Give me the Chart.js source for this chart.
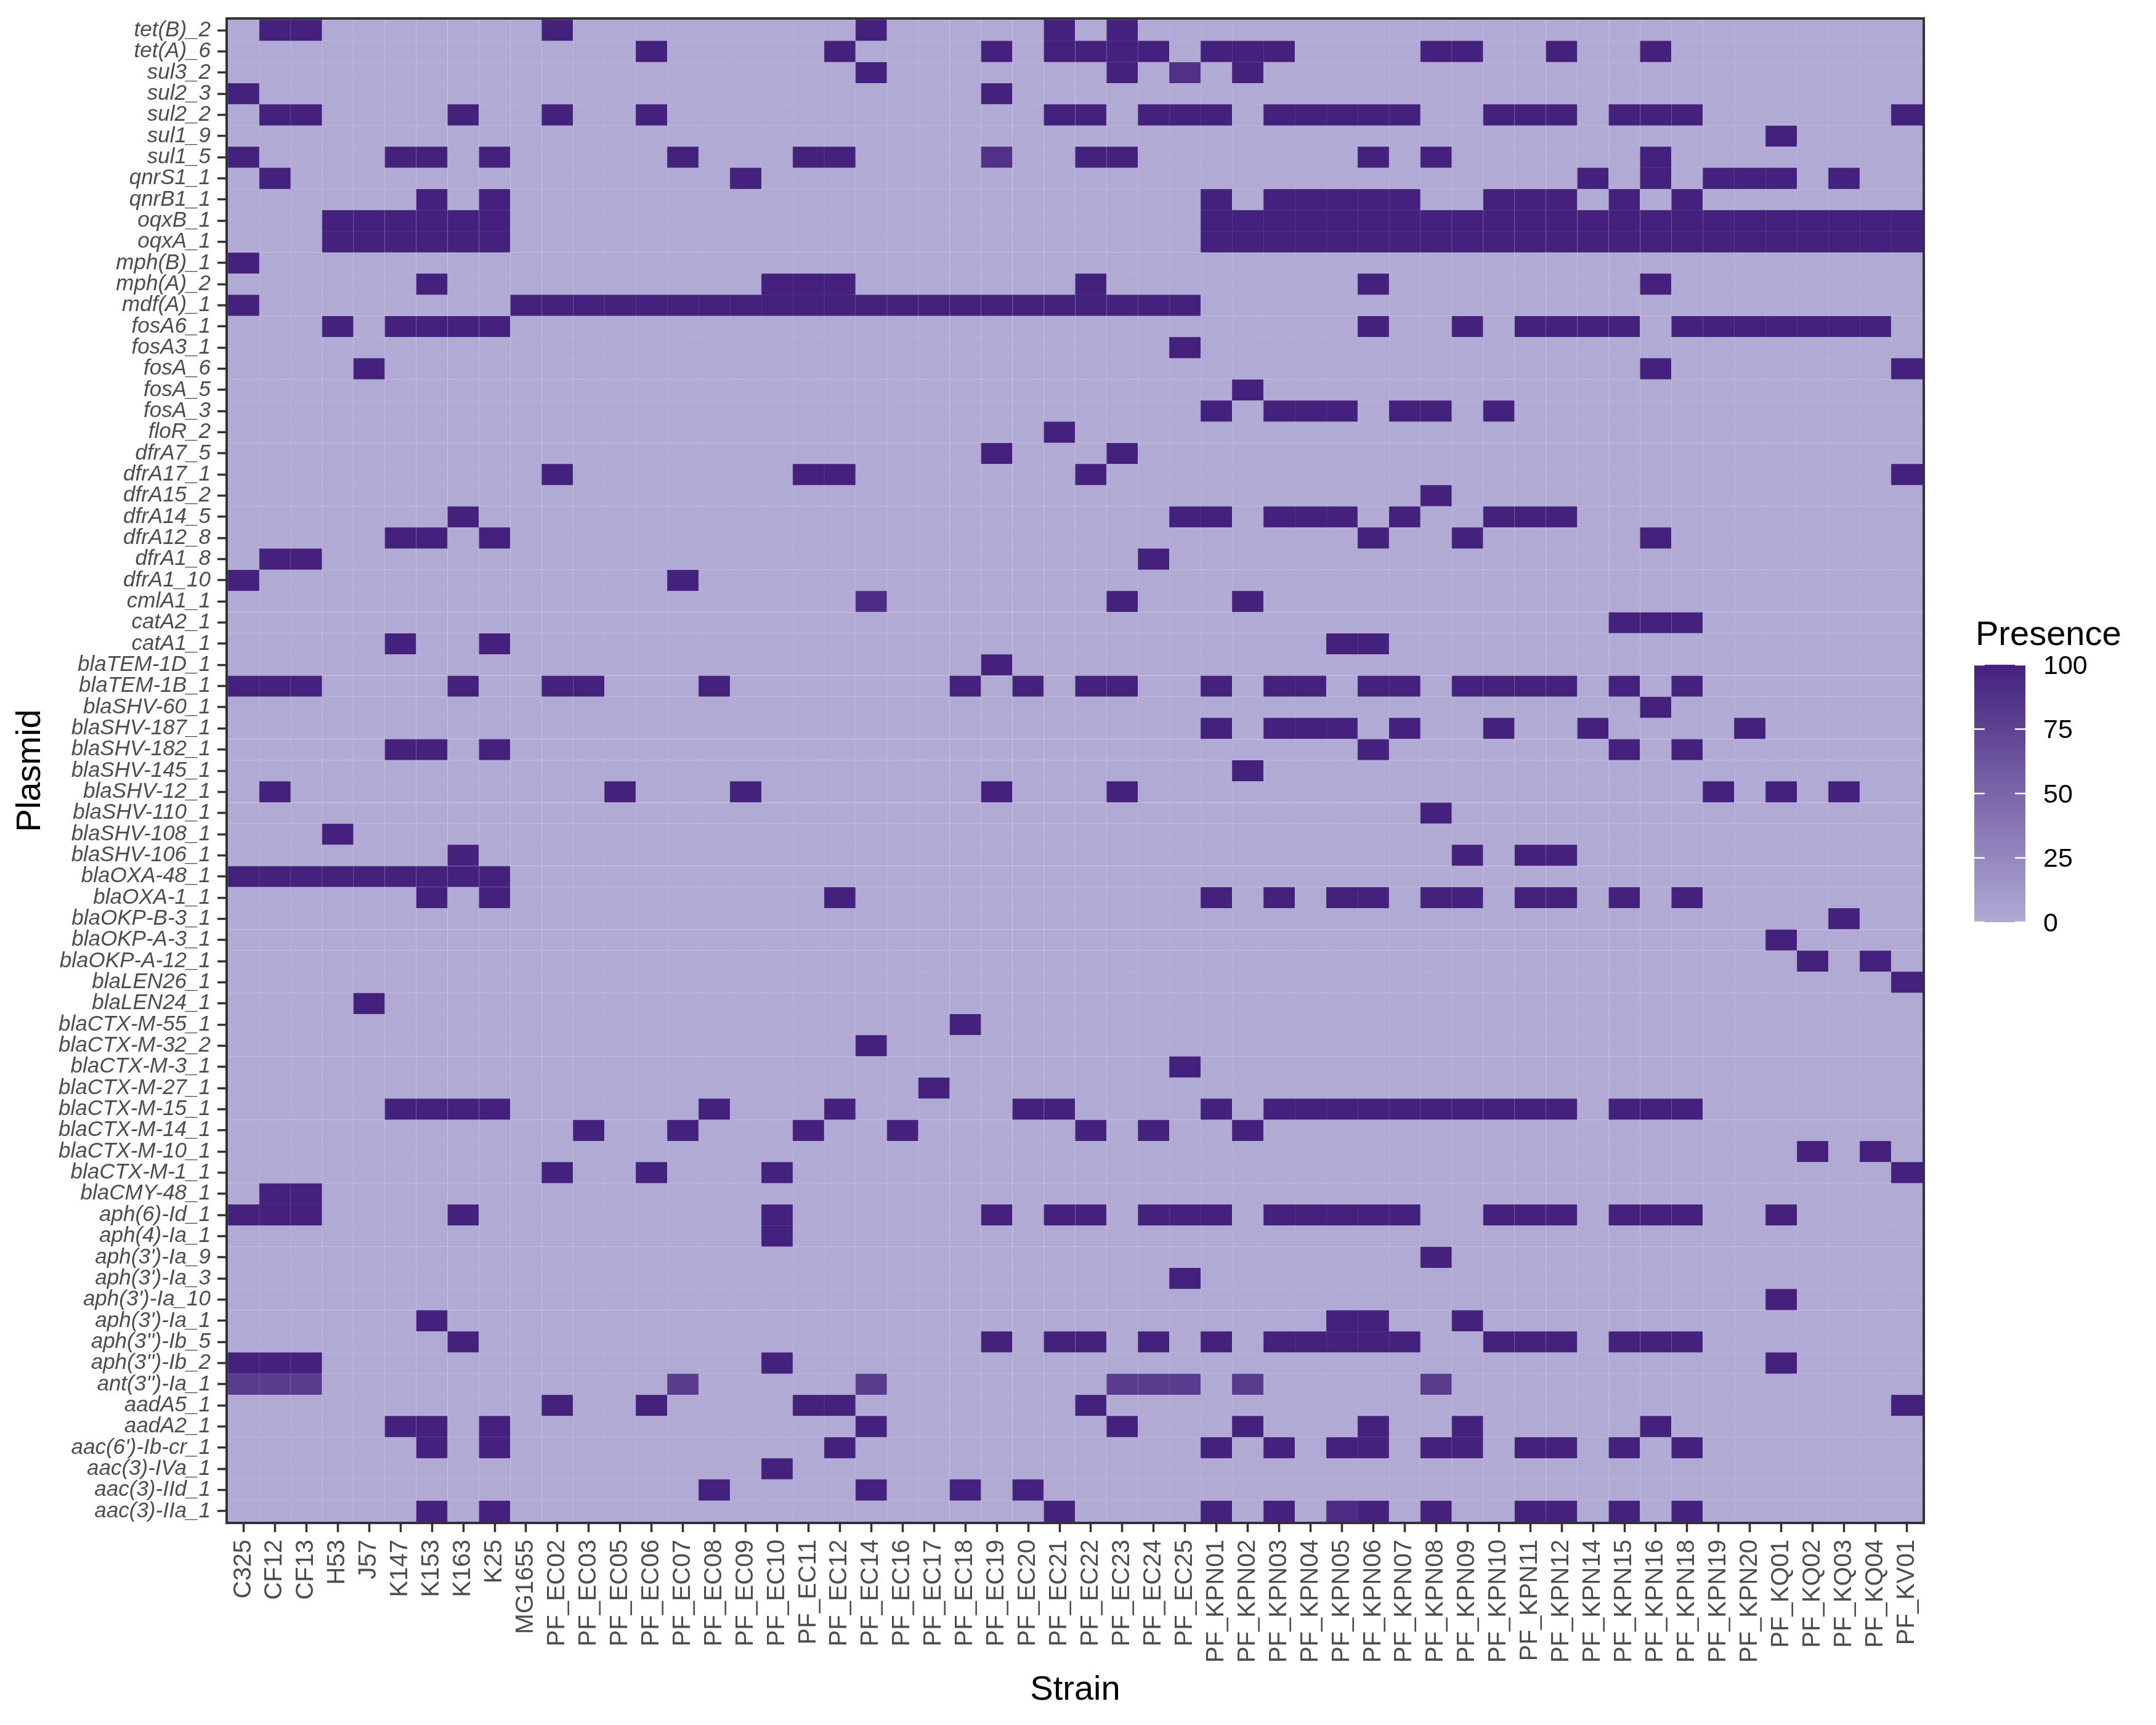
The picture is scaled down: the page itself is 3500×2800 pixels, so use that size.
<!DOCTYPE html>
<html>
<head>
<meta charset="utf-8">
<script src="https://cdn.jsdelivr.net/npm/chart.js@4.4.1/dist/chart.umd.min.js"></script>
<style>
html,body{margin:0;padding:0;background:#fff;}
canvas{display:block;}
</style>
</head>
<body>
<canvas id="c" width="3500" height="2800" style="width:3500px;height:2800px"></canvas>
<script>
// ---------------- DATA ----------------
const strains = ["C325","CF12","CF13","H53","J57","K147","K153","K163","K25","MG1655",
  "PF_EC02","PF_EC03","PF_EC05","PF_EC06","PF_EC07","PF_EC08","PF_EC09","PF_EC10","PF_EC11","PF_EC12",
  "PF_EC14","PF_EC16","PF_EC17","PF_EC18","PF_EC19","PF_EC20","PF_EC21","PF_EC22","PF_EC23","PF_EC24",
  "PF_EC25","PF_KPN01","PF_KPN02","PF_KPN03","PF_KPN04","PF_KPN05","PF_KPN06","PF_KPN07","PF_KPN08","PF_KPN09",
  "PF_KPN10","PF_KPN11","PF_KPN12","PF_KPN14","PF_KPN15","PF_KPN16","PF_KPN18","PF_KPN19","PF_KPN20","PF_KQ01",
  "PF_KQ02","PF_KQ03","PF_KQ04","PF_KV01"];

// top to bottom
const plasmids = ["tet(B)_2","tet(A)_6","sul3_2","sul2_3","sul2_2","sul1_9","sul1_5","qnrS1_1","qnrB1_1","oqxB_1",
  "oqxA_1","mph(B)_1","mph(A)_2","mdf(A)_1","fosA6_1","fosA3_1","fosA_6","fosA_5","fosA_3","floR_2",
  "dfrA7_5","dfrA17_1","dfrA15_2","dfrA14_5","dfrA12_8","dfrA1_8","dfrA1_10","cmlA1_1","catA2_1","catA1_1",
  "blaTEM-1D_1","blaTEM-1B_1","blaSHV-60_1","blaSHV-187_1","blaSHV-182_1","blaSHV-145_1","blaSHV-12_1","blaSHV-110_1","blaSHV-108_1","blaSHV-106_1",
  "blaOXA-48_1","blaOXA-1_1","blaOKP-B-3_1","blaOKP-A-3_1","blaOKP-A-12_1","blaLEN26_1","blaLEN24_1","blaCTX-M-55_1","blaCTX-M-32_2","blaCTX-M-3_1",
  "blaCTX-M-27_1","blaCTX-M-15_1","blaCTX-M-14_1","blaCTX-M-10_1","blaCTX-M-1_1","blaCMY-48_1","aph(6)-Id_1","aph(4)-Ia_1","aph(3')-Ia_9","aph(3')-Ia_3",
  "aph(3')-Ia_10","aph(3')-Ia_1","aph(3'')-Ib_5","aph(3'')-Ib_2","ant(3'')-Ia_1","aadA5_1","aadA2_1","aac(6')-Ib-cr_1","aac(3)-IVa_1","aac(3)-IId_1",
  "aac(3)-IIa_1"];

// presence (%) per plasmid row, one value per strain (same order as strains)
const presence = [
/* tet(B)_2 */   [0,100,100,0,0,0,0,0,0,0, 100,0,0,0,0,0,0,0,0,0, 100,0,0,0,0,0,100,0,100,0, 0,0,0,0,0,0,0,0,0,0, 0,0,0,0,0,0,0,0,0,0, 0,0,0,0],
/* tet(A)_6 */   [0,0,0,0,0,0,0,0,0,0, 0,0,0,100,0,0,0,0,0,100, 0,0,0,0,100,0,100,100,100,100, 0,100,100,100,0,0,0,0,100,100, 0,0,100,0,0,100,0,0,0,0, 0,0,0,0],
/* sul3_2 */     [0,0,0,0,0,0,0,0,0,0, 0,0,0,0,0,0,0,0,0,0, 100,0,0,0,0,0,0,0,100,0, 88,0,100,0,0,0,0,0,0,0, 0,0,0,0,0,0,0,0,0,0, 0,0,0,0],
/* sul2_3 */     [100,0,0,0,0,0,0,0,0,0, 0,0,0,0,0,0,0,0,0,0, 0,0,0,0,100,0,0,0,0,0, 0,0,0,0,0,0,0,0,0,0, 0,0,0,0,0,0,0,0,0,0, 0,0,0,0],
/* sul2_2 */     [0,100,100,0,0,0,0,100,0,0, 100,0,0,100,0,0,0,0,0,0, 0,0,0,0,0,0,100,100,0,100, 100,100,0,100,100,100,100,100,0,0, 100,100,100,0,100,100,100,0,0,0, 0,0,0,100],
/* sul1_9 */     [0,0,0,0,0,0,0,0,0,0, 0,0,0,0,0,0,0,0,0,0, 0,0,0,0,0,0,0,0,0,0, 0,0,0,0,0,0,0,0,0,0, 0,0,0,0,0,0,0,0,0,100, 0,0,0,0],
/* sul1_5 */     [100,0,0,0,0,100,100,0,100,0, 0,0,0,0,100,0,0,0,100,100, 0,0,0,0,88,0,0,100,100,0, 0,0,0,0,0,0,100,0,100,0, 0,0,0,0,0,100,0,0,0,0, 0,0,0,0],
/* qnrS1_1 */    [0,100,0,0,0,0,0,0,0,0, 0,0,0,0,0,0,100,0,0,0, 0,0,0,0,0,0,0,0,0,0, 0,0,0,0,0,0,0,0,0,0, 0,0,0,100,0,100,0,100,100,100, 0,100,0,0],
/* qnrB1_1 */    [0,0,0,0,0,0,100,0,100,0, 0,0,0,0,0,0,0,0,0,0, 0,0,0,0,0,0,0,0,0,0, 0,100,0,100,100,100,100,100,0,0, 100,100,100,0,100,0,100,0,0,0, 0,0,0,0],
/* oqxB_1 */     [0,0,0,100,100,100,100,100,100,0, 0,0,0,0,0,0,0,0,0,0, 0,0,0,0,0,0,0,0,0,0, 0,100,100,100,100,100,100,100,100,100, 100,100,100,100,100,100,100,100,100,100, 100,100,100,100],
/* oqxA_1 */     [0,0,0,100,100,100,100,100,100,0, 0,0,0,0,0,0,0,0,0,0, 0,0,0,0,0,0,0,0,0,0, 0,100,100,100,100,100,100,100,100,100, 100,100,100,100,100,100,100,100,100,100, 100,100,100,100],
/* mph(B)_1 */   [100,0,0,0,0,0,0,0,0,0, 0,0,0,0,0,0,0,0,0,0, 0,0,0,0,0,0,0,0,0,0, 0,0,0,0,0,0,0,0,0,0, 0,0,0,0,0,0,0,0,0,0, 0,0,0,0],
/* mph(A)_2 */   [0,0,0,0,0,0,100,0,0,0, 0,0,0,0,0,0,0,100,100,100, 0,0,0,0,0,0,0,100,0,0, 0,0,0,0,0,0,100,0,0,0, 0,0,0,0,0,100,0,0,0,0, 0,0,0,0],
/* mdf(A)_1 */   [100,0,0,0,0,0,0,0,0,100, 100,100,100,100,100,100,100,100,100,100, 100,100,100,100,100,100,100,100,100,100, 100,0,0,0,0,0,0,0,0,0, 0,0,0,0,0,0,0,0,0,0, 0,0,0,0],
/* fosA6_1 */    [0,0,0,100,0,100,100,100,100,0, 0,0,0,0,0,0,0,0,0,0, 0,0,0,0,0,0,0,0,0,0, 0,0,0,0,0,0,100,0,0,100, 0,100,100,100,100,0,100,100,100,100, 100,100,100,0],
/* fosA3_1 */    [0,0,0,0,0,0,0,0,0,0, 0,0,0,0,0,0,0,0,0,0, 0,0,0,0,0,0,0,0,0,0, 100,0,0,0,0,0,0,0,0,0, 0,0,0,0,0,0,0,0,0,0, 0,0,0,0],
/* fosA_6 */     [0,0,0,0,100,0,0,0,0,0, 0,0,0,0,0,0,0,0,0,0, 0,0,0,0,0,0,0,0,0,0, 0,0,0,0,0,0,0,0,0,0, 0,0,0,0,0,100,0,0,0,0, 0,0,0,100],
/* fosA_5 */     [0,0,0,0,0,0,0,0,0,0, 0,0,0,0,0,0,0,0,0,0, 0,0,0,0,0,0,0,0,0,0, 0,0,100,0,0,0,0,0,0,0, 0,0,0,0,0,0,0,0,0,0, 0,0,0,0],
/* fosA_3 */     [0,0,0,0,0,0,0,0,0,0, 0,0,0,0,0,0,0,0,0,0, 0,0,0,0,0,0,0,0,0,0, 0,100,0,100,100,100,0,100,100,0, 100,0,0,0,0,0,0,0,0,0, 0,0,0,0],
/* floR_2 */     [0,0,0,0,0,0,0,0,0,0, 0,0,0,0,0,0,0,0,0,0, 0,0,0,0,0,0,100,0,0,0, 0,0,0,0,0,0,0,0,0,0, 0,0,0,0,0,0,0,0,0,0, 0,0,0,0],
/* dfrA7_5 */    [0,0,0,0,0,0,0,0,0,0, 0,0,0,0,0,0,0,0,0,0, 0,0,0,0,100,0,0,0,100,0, 0,0,0,0,0,0,0,0,0,0, 0,0,0,0,0,0,0,0,0,0, 0,0,0,0],
/* dfrA17_1 */   [0,0,0,0,0,0,0,0,0,0, 100,0,0,0,0,0,0,0,100,100, 0,0,0,0,0,0,0,100,0,0, 0,0,0,0,0,0,0,0,0,0, 0,0,0,0,0,0,0,0,0,0, 0,0,0,100],
/* dfrA15_2 */   [0,0,0,0,0,0,0,0,0,0, 0,0,0,0,0,0,0,0,0,0, 0,0,0,0,0,0,0,0,0,0, 0,0,0,0,0,0,0,0,100,0, 0,0,0,0,0,0,0,0,0,0, 0,0,0,0],
/* dfrA14_5 */   [0,0,0,0,0,0,0,100,0,0, 0,0,0,0,0,0,0,0,0,0, 0,0,0,0,0,0,0,0,0,0, 100,100,0,100,100,100,0,100,0,0, 100,100,100,0,0,0,0,0,0,0, 0,0,0,0],
/* dfrA12_8 */   [0,0,0,0,0,100,100,0,100,0, 0,0,0,0,0,0,0,0,0,0, 0,0,0,0,0,0,0,0,0,0, 0,0,0,0,0,0,100,0,0,100, 0,0,0,0,0,100,0,0,0,0, 0,0,0,0],
/* dfrA1_8 */    [0,100,100,0,0,0,0,0,0,0, 0,0,0,0,0,0,0,0,0,0, 0,0,0,0,0,0,0,0,0,100, 0,0,0,0,0,0,0,0,0,0, 0,0,0,0,0,0,0,0,0,0, 0,0,0,0],
/* dfrA1_10 */   [100,0,0,0,0,0,0,0,0,0, 0,0,0,0,100,0,0,0,0,0, 0,0,0,0,0,0,0,0,0,0, 0,0,0,0,0,0,0,0,0,0, 0,0,0,0,0,0,0,0,0,0, 0,0,0,0],
/* cmlA1_1 */    [0,0,0,0,0,0,0,0,0,0, 0,0,0,0,0,0,0,0,0,0, 92,0,0,0,0,0,0,0,100,0, 0,0,100,0,0,0,0,0,0,0, 0,0,0,0,0,0,0,0,0,0, 0,0,0,0],
/* catA2_1 */    [0,0,0,0,0,0,0,0,0,0, 0,0,0,0,0,0,0,0,0,0, 0,0,0,0,0,0,0,0,0,0, 0,0,0,0,0,0,0,0,0,0, 0,0,0,0,100,100,100,0,0,0, 0,0,0,0],
/* catA1_1 */    [0,0,0,0,0,100,0,0,100,0, 0,0,0,0,0,0,0,0,0,0, 0,0,0,0,0,0,0,0,0,0, 0,0,0,0,0,100,100,0,0,0, 0,0,0,0,0,0,0,0,0,0, 0,0,0,0],
/* blaTEM-1D_1 */[0,0,0,0,0,0,0,0,0,0, 0,0,0,0,0,0,0,0,0,0, 0,0,0,0,100,0,0,0,0,0, 0,0,0,0,0,0,0,0,0,0, 0,0,0,0,0,0,0,0,0,0, 0,0,0,0],
/* blaTEM-1B_1 */[100,100,100,0,0,0,0,100,0,0, 100,100,0,0,0,100,0,0,0,0, 0,0,0,100,0,100,0,100,100,0, 0,100,0,100,100,0,100,100,0,100, 100,100,100,0,100,0,100,0,0,0, 0,0,0,0],
/* blaSHV-60_1 */[0,0,0,0,0,0,0,0,0,0, 0,0,0,0,0,0,0,0,0,0, 0,0,0,0,0,0,0,0,0,0, 0,0,0,0,0,0,0,0,0,0, 0,0,0,0,0,100,0,0,0,0, 0,0,0,0],
/* blaSHV-187_1 */[0,0,0,0,0,0,0,0,0,0, 0,0,0,0,0,0,0,0,0,0, 0,0,0,0,0,0,0,0,0,0, 0,100,0,100,100,100,0,100,0,0, 100,0,0,100,0,0,0,0,100,0, 0,0,0,0],
/* blaSHV-182_1 */[0,0,0,0,0,100,100,0,100,0, 0,0,0,0,0,0,0,0,0,0, 0,0,0,0,0,0,0,0,0,0, 0,0,0,0,0,0,100,0,0,0, 0,0,0,0,100,0,100,0,0,0, 0,0,0,0],
/* blaSHV-145_1 */[0,0,0,0,0,0,0,0,0,0, 0,0,0,0,0,0,0,0,0,0, 0,0,0,0,0,0,0,0,0,0, 0,0,100,0,0,0,0,0,0,0, 0,0,0,0,0,0,0,0,0,0, 0,0,0,0],
/* blaSHV-12_1 */[0,100,0,0,0,0,0,0,0,0, 0,0,100,0,0,0,100,0,0,0, 0,0,0,0,100,0,0,0,100,0, 0,0,0,0,0,0,0,0,0,0, 0,0,0,0,0,0,0,100,0,100, 0,100,0,0],
/* blaSHV-110_1 */[0,0,0,0,0,0,0,0,0,0, 0,0,0,0,0,0,0,0,0,0, 0,0,0,0,0,0,0,0,0,0, 0,0,0,0,0,0,0,0,100,0, 0,0,0,0,0,0,0,0,0,0, 0,0,0,0],
/* blaSHV-108_1 */[0,0,0,100,0,0,0,0,0,0, 0,0,0,0,0,0,0,0,0,0, 0,0,0,0,0,0,0,0,0,0, 0,0,0,0,0,0,0,0,0,0, 0,0,0,0,0,0,0,0,0,0, 0,0,0,0],
/* blaSHV-106_1 */[0,0,0,0,0,0,0,100,0,0, 0,0,0,0,0,0,0,0,0,0, 0,0,0,0,0,0,0,0,0,0, 0,0,0,0,0,0,0,0,0,100, 0,100,100,0,0,0,0,0,0,0, 0,0,0,0],
/* blaOXA-48_1 */[100,100,100,100,100,100,100,100,100,0, 0,0,0,0,0,0,0,0,0,0, 0,0,0,0,0,0,0,0,0,0, 0,0,0,0,0,0,0,0,0,0, 0,0,0,0,0,0,0,0,0,0, 0,0,0,0],
/* blaOXA-1_1 */ [0,0,0,0,0,0,100,0,100,0, 0,0,0,0,0,0,0,0,0,100, 0,0,0,0,0,0,0,0,0,0, 0,100,0,100,0,100,100,0,100,100, 0,100,100,0,100,0,100,0,0,0, 0,0,0,0],
/* blaOKP-B-3_1 */[0,0,0,0,0,0,0,0,0,0, 0,0,0,0,0,0,0,0,0,0, 0,0,0,0,0,0,0,0,0,0, 0,0,0,0,0,0,0,0,0,0, 0,0,0,0,0,0,0,0,0,0, 0,100,0,0],
/* blaOKP-A-3_1 */[0,0,0,0,0,0,0,0,0,0, 0,0,0,0,0,0,0,0,0,0, 0,0,0,0,0,0,0,0,0,0, 0,0,0,0,0,0,0,0,0,0, 0,0,0,0,0,0,0,0,0,100, 0,0,0,0],
/* blaOKP-A-12_1 */[0,0,0,0,0,0,0,0,0,0, 0,0,0,0,0,0,0,0,0,0, 0,0,0,0,0,0,0,0,0,0, 0,0,0,0,0,0,0,0,0,0, 0,0,0,0,0,0,0,0,0,0, 100,0,100,0],
/* blaLEN26_1 */ [0,0,0,0,0,0,0,0,0,0, 0,0,0,0,0,0,0,0,0,0, 0,0,0,0,0,0,0,0,0,0, 0,0,0,0,0,0,0,0,0,0, 0,0,0,0,0,0,0,0,0,0, 0,0,0,100],
/* blaLEN24_1 */ [0,0,0,0,100,0,0,0,0,0, 0,0,0,0,0,0,0,0,0,0, 0,0,0,0,0,0,0,0,0,0, 0,0,0,0,0,0,0,0,0,0, 0,0,0,0,0,0,0,0,0,0, 0,0,0,0],
/* blaCTX-M-55_1 */[0,0,0,0,0,0,0,0,0,0, 0,0,0,0,0,0,0,0,0,0, 0,0,0,100,0,0,0,0,0,0, 0,0,0,0,0,0,0,0,0,0, 0,0,0,0,0,0,0,0,0,0, 0,0,0,0],
/* blaCTX-M-32_2 */[0,0,0,0,0,0,0,0,0,0, 0,0,0,0,0,0,0,0,0,0, 100,0,0,0,0,0,0,0,0,0, 0,0,0,0,0,0,0,0,0,0, 0,0,0,0,0,0,0,0,0,0, 0,0,0,0],
/* blaCTX-M-3_1 */[0,0,0,0,0,0,0,0,0,0, 0,0,0,0,0,0,0,0,0,0, 0,0,0,0,0,0,0,0,0,0, 100,0,0,0,0,0,0,0,0,0, 0,0,0,0,0,0,0,0,0,0, 0,0,0,0],
/* blaCTX-M-27_1 */[0,0,0,0,0,0,0,0,0,0, 0,0,0,0,0,0,0,0,0,0, 0,0,100,0,0,0,0,0,0,0, 0,0,0,0,0,0,0,0,0,0, 0,0,0,0,0,0,0,0,0,0, 0,0,0,0],
/* blaCTX-M-15_1 */[0,0,0,0,0,100,100,100,100,0, 0,0,0,0,0,100,0,0,0,100, 0,0,0,0,0,100,100,0,0,0, 0,100,0,100,100,100,100,100,100,100, 100,100,100,0,100,100,100,0,0,0, 0,0,0,0],
/* blaCTX-M-14_1 */[0,0,0,0,0,0,0,0,0,0, 0,100,0,0,100,0,0,0,100,0, 0,100,0,0,0,0,0,100,0,100, 0,0,100,0,0,0,0,0,0,0, 0,0,0,0,0,0,0,0,0,0, 0,0,0,0],
/* blaCTX-M-10_1 */[0,0,0,0,0,0,0,0,0,0, 0,0,0,0,0,0,0,0,0,0, 0,0,0,0,0,0,0,0,0,0, 0,0,0,0,0,0,0,0,0,0, 0,0,0,0,0,0,0,0,0,0, 100,0,100,0],
/* blaCTX-M-1_1 */[0,0,0,0,0,0,0,0,0,0, 100,0,0,100,0,0,0,100,0,0, 0,0,0,0,0,0,0,0,0,0, 0,0,0,0,0,0,0,0,0,0, 0,0,0,0,0,0,0,0,0,0, 0,0,0,100],
/* blaCMY-48_1 */[0,100,100,0,0,0,0,0,0,0, 0,0,0,0,0,0,0,0,0,0, 0,0,0,0,0,0,0,0,0,0, 0,0,0,0,0,0,0,0,0,0, 0,0,0,0,0,0,0,0,0,0, 0,0,0,0],
/* aph(6)-Id_1 */[100,100,100,0,0,0,0,100,0,0, 0,0,0,0,0,0,0,100,0,0, 0,0,0,0,100,0,100,100,0,100, 100,100,0,100,100,100,100,100,0,0, 100,100,100,0,100,100,100,0,0,100, 0,0,0,0],
/* aph(4)-Ia_1 */[0,0,0,0,0,0,0,0,0,0, 0,0,0,0,0,0,0,100,0,0, 0,0,0,0,0,0,0,0,0,0, 0,0,0,0,0,0,0,0,0,0, 0,0,0,0,0,0,0,0,0,0, 0,0,0,0],
/* aph(3')-Ia_9 */[0,0,0,0,0,0,0,0,0,0, 0,0,0,0,0,0,0,0,0,0, 0,0,0,0,0,0,0,0,0,0, 0,0,0,0,0,0,0,0,100,0, 0,0,0,0,0,0,0,0,0,0, 0,0,0,0],
/* aph(3')-Ia_3 */[0,0,0,0,0,0,0,0,0,0, 0,0,0,0,0,0,0,0,0,0, 0,0,0,0,0,0,0,0,0,0, 100,0,0,0,0,0,0,0,0,0, 0,0,0,0,0,0,0,0,0,0, 0,0,0,0],
/* aph(3')-Ia_10 */[0,0,0,0,0,0,0,0,0,0, 0,0,0,0,0,0,0,0,0,0, 0,0,0,0,0,0,0,0,0,0, 0,0,0,0,0,0,0,0,0,0, 0,0,0,0,0,0,0,0,0,100, 0,0,0,0],
/* aph(3')-Ia_1 */[0,0,0,0,0,0,100,0,0,0, 0,0,0,0,0,0,0,0,0,0, 0,0,0,0,0,0,0,0,0,0, 0,0,0,0,0,100,100,0,0,100, 0,0,0,0,0,0,0,0,0,0, 0,0,0,0],
/* aph(3'')-Ib_5 */[0,0,0,0,0,0,0,100,0,0, 0,0,0,0,0,0,0,0,0,0, 0,0,0,0,100,0,100,100,0,100, 0,100,0,100,100,100,100,100,0,0, 100,100,100,0,100,100,100,0,0,0, 0,0,0,0],
/* aph(3'')-Ib_2 */[100,100,100,0,0,0,0,0,0,0, 0,0,0,0,0,0,0,100,0,0, 0,0,0,0,0,0,0,0,0,0, 0,0,0,0,0,0,0,0,0,0, 0,0,0,0,0,0,0,0,0,100, 0,0,0,0],
/* ant(3'')-Ia_1 */[80,80,80,0,0,0,0,0,0,0, 0,0,0,0,80,0,0,0,0,0, 80,0,0,0,0,0,0,0,80,80, 80,0,80,0,0,0,0,0,80,0, 0,0,0,0,0,0,0,0,0,0, 0,0,0,0],
/* aadA5_1 */    [0,0,0,0,0,0,0,0,0,0, 100,0,0,100,0,0,0,0,100,100, 0,0,0,0,0,0,0,100,0,0, 0,0,0,0,0,0,0,0,0,0, 0,0,0,0,0,0,0,0,0,0, 0,0,0,100],
/* aadA2_1 */    [0,0,0,0,0,100,100,0,100,0, 0,0,0,0,0,0,0,0,0,0, 100,0,0,0,0,0,0,0,100,0, 0,0,100,0,0,0,100,0,0,100, 0,0,0,0,0,100,0,0,0,0, 0,0,0,0],
/* aac(6')-Ib-cr_1 */[0,0,0,0,0,0,100,0,100,0, 0,0,0,0,0,0,0,0,0,100, 0,0,0,0,0,0,0,0,0,0, 0,100,0,100,0,100,100,0,100,100, 0,100,100,0,100,0,100,0,0,0, 0,0,0,0],
/* aac(3)-IVa_1 */[0,0,0,0,0,0,0,0,0,0, 0,0,0,0,0,0,0,100,0,0, 0,0,0,0,0,0,0,0,0,0, 0,0,0,0,0,0,0,0,0,0, 0,0,0,0,0,0,0,0,0,0, 0,0,0,0],
/* aac(3)-IId_1 */[0,0,0,0,0,0,0,0,0,0, 0,0,0,0,0,100,0,0,0,0, 100,0,0,100,0,100,0,0,0,0, 0,0,0,0,0,0,0,0,0,0, 0,0,0,0,0,0,0,0,0,0, 0,0,0,0],
/* aac(3)-IIa_1 */[0,0,0,0,0,0,100,0,100,0, 0,0,0,0,0,0,0,0,0,0, 0,0,0,0,0,0,100,0,0,0, 0,100,0,100,0,92,100,0,100,0, 0,100,100,0,100,0,100,0,0,0, 0,0,0,0]
];

const legendTicks = [0, 25, 50, 75, 100];

// ---------------- STYLE ----------------
const FONT = '"Liberation Sans", Arial, Helvetica, sans-serif';
const LOW = [176, 170, 212];
const HIGH = [67, 33, 125];
function mix(a, b, t) { return a.map((v, i) => Math.round(v + (b[i] - v) * t)); }
function rgb(c) { return 'rgb(' + c.join(',') + ')'; }
function fillFor(v) { return rgb(mix(LOW, HIGH, v / 100)); }
function edgeFor(v) { return rgb(mix(mix(LOW, HIGH, v / 100), [255, 255, 255], 0.12)); }

const datasets = plasmids.map((name, k) => ({
  label: name,
  data: strains.map(() => [k, k + 1]),
  backgroundColor: presence[k].map(fillFor),
  borderColor: presence[k].map(edgeFor),
  borderWidth: { top: 1, left: 1, right: 0, bottom: 0 },
  borderSkipped: false,
  grouped: false,
  barPercentage: 1,
  categoryPercentage: 1
}));

// panel border + colour-bar legend
const decor = {
  id: 'decor',
  afterDraw(chart) {
    const { ctx, chartArea: a } = chart;
    ctx.save();
    ctx.strokeStyle = '#333333';
    ctx.lineWidth = 4;
    ctx.strokeRect(a.left - 2, a.top - 2, a.right - a.left + 4, a.bottom - a.top + 4);

    // legend
    const bx = 3205, bw = 83, bTop = 1079, bBot = 1497;
    const yOf = v => bBot - (v / 100) * (bBot - bTop);
    const g = ctx.createLinearGradient(0, bBot, 0, bTop);
    for (let s = 0; s <= 10; s++) g.addColorStop(s / 10, fillFor(s * 10));
    ctx.fillStyle = g;
    ctx.fillRect(bx, bTop, bw, bBot - bTop);
    ctx.strokeStyle = '#ffffff';
    ctx.lineWidth = 2.5;
    legendTicks.forEach(v => {
      const y = yOf(v);
      ctx.beginPath();
      ctx.moveTo(bx, y); ctx.lineTo(bx + 17, y);
      ctx.moveTo(bx + bw - 17, y); ctx.lineTo(bx + bw, y);
      ctx.stroke();
    });
    ctx.fillStyle = '#000000';
    ctx.font = '56px ' + FONT;
    ctx.textAlign = 'left';
    ctx.textBaseline = 'alphabetic';
    ctx.fillText('Presence', 3207, 1047);
    ctx.font = '43px ' + FONT;
    ctx.textBaseline = 'middle';
    legendTicks.forEach(v => ctx.fillText(String(v), 3317, yOf(v) + 3));
    ctx.restore();
  }
};

new Chart(document.getElementById('c'), {
  type: 'bar',
  data: { labels: strains, datasets },
  options: {
    responsive: false,
    animation: false,
    devicePixelRatio: 1,
    layout: { padding: { left: 0, right: 379, top: 29, bottom: 0 } },
    plugins: { legend: { display: false }, tooltip: { enabled: false } },
    scales: {
      x: {
        type: 'category',
        offset: true,
        border: { display: false },
        grid: { display: true, drawOnChartArea: false, drawTicks: true, offset: false,
                tickLength: 17, tickWidth: 3.5, tickColor: '#333333' },
        ticks: { autoSkip: false, maxRotation: 90, minRotation: 90, padding: 12,
                 color: '#4d4d4d', font: { family: FONT, size: 40 } },
        title: { display: true, text: 'Strain', color: '#000000',
                 font: { family: FONT, size: 56 }, padding: { top: 0, bottom: 23 } },
        afterFit: s => { s.height = 330; }
      },
      y: {
        type: 'linear',
        min: 0,
        max: plasmids.length,
        reverse: true,
        border: { display: false },
        grid: { display: true, drawOnChartArea: false, drawTicks: true,
                tickLength: 17, tickWidth: 3.5, tickColor: '#333333' },
        afterBuildTicks: s => { s.ticks = plasmids.map((p, k) => ({ value: k + 0.5 })); },
        ticks: { autoSkip: false, padding: 11, color: '#4d4d4d',
                 font: { family: FONT, size: 35, style: 'italic' },
                 callback: (v, i) => plasmids[i] },
        title: { display: true, text: 'Plasmid', color: '#000000',
                 font: { family: FONT, size: 56 }, padding: { top: 16, bottom: 0 } },
        afterFit: s => { s.width = 370; }
      }
    }
  },
  plugins: [decor]
});
</script>
</body>
</html>
